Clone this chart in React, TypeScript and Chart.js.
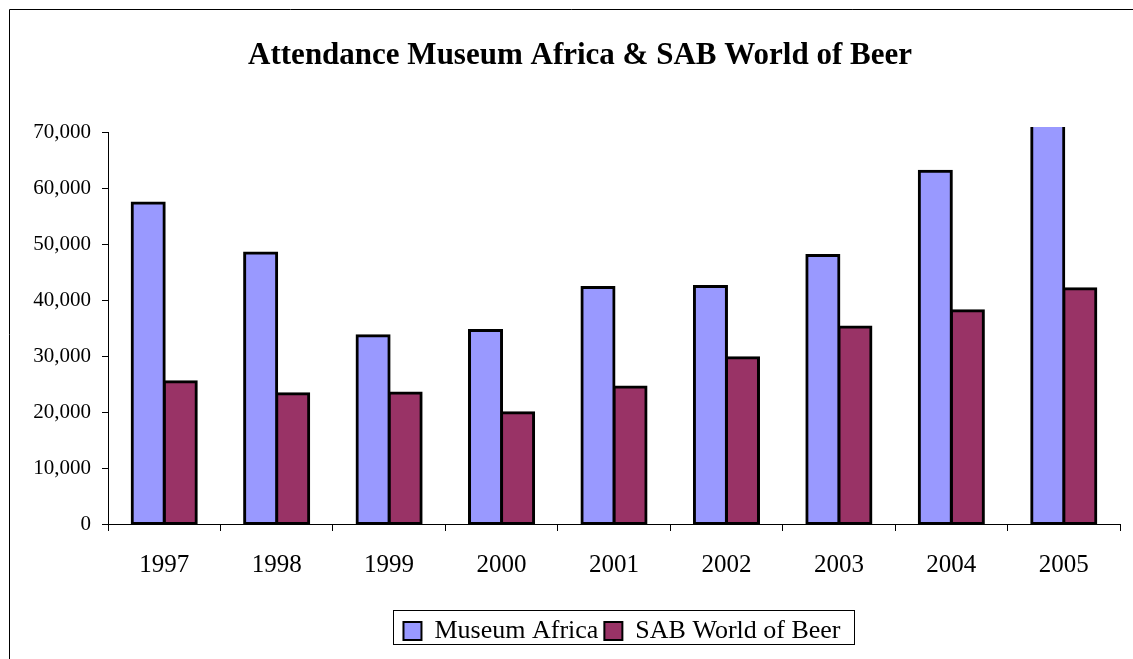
import React, { useEffect, useRef } from 'react';
import { Chart, registerables } from 'chart.js';

Chart.register(...registerables);

// ---- data ----
const YEARS = ['1997', '1998', '1999', '2000', '2001', '2002', '2003', '2004', '2005'];
const MUSEUM_AFRICA = [57300, 48400, 33600, 34550, 42250, 42400, 47950, 63000, 74000];
const SAB_WORLD_OF_BEER = [25400, 23250, 23400, 19850, 24450, 29700, 35200, 38100, 42000];
const SERIES_NAMES = ['Museum Africa', 'SAB World of Beer'];
const TITLE = 'Attendance Museum Africa & SAB World of Beer';
const Y_MIN = 0;
const Y_MAX = 70000;
const Y_STEP = 10000;

// ---- style ----
const COLORS = ['#9999FF', '#993366'];
const FONT = '"Liberation Serif", "Times New Roman", Times, serif';
const W = 1133;
const H = 659;
const TITLE_CENTER_X = 580;
const LEGEND_CENTER_X = 622;

const fmt = new Intl.NumberFormat('en-US');

const layoutPlugin = {
  id: 'layoutShift',
  afterUpdate(chart: any) {
    const t = chart.titleBlock;
    if (t) {
      const dx = TITLE_CENTER_X - (t.left + t.right) / 2;
      t.left += dx;
      t.right += dx;
    }
    const lg = chart.legend;
    if (lg && lg.legendHitBoxes && lg.legendHitBoxes.length) {
      const boxes = lg.legendHitBoxes;
      const minX = Math.min(...boxes.map((b: any) => b.left));
      const maxX = Math.max(...boxes.map((b: any) => b.left + b.width));
      const dx = LEGEND_CENTER_X - (minX + maxX) / 2;
      lg.left += dx;
      lg.right += dx;
      boxes.forEach((b: any) => { b.left += dx; });
    }
  },
  afterDraw(chart: any) {
    const ctx = chart.ctx;
    ctx.save();
    ctx.strokeStyle = '#000';
    ctx.lineWidth = 1;
    // outer chart frame (left and top edges visible)
    ctx.beginPath();
    ctx.moveTo(9.5, H);
    ctx.lineTo(9.5, 9.5);
    ctx.lineTo(W, 9.5);
    ctx.stroke();
    // legend frame
    const lg = chart.legend;
    if (lg && lg.legendHitBoxes && lg.legendHitBoxes.length) {
      const boxes = lg.legendHitBoxes;
      const minX = Math.min(...boxes.map((b: any) => b.left));
      const maxX = Math.max(...boxes.map((b: any) => b.left + b.width));
      const cy = boxes[0].top + boxes[0].height / 2;
      const x0 = Math.round(minX - 10) + 0.5;
      const x1 = Math.round(maxX + 13) + 0.5;
      const y0 = Math.round(cy - 21) + 0.5;
      const y1 = Math.round(cy + 13) + 0.5;
      ctx.strokeRect(x0, y0, x1 - x0, y1 - y0);
    }
    ctx.restore();
  },
};

export default function App() {
  const canvasRef = useRef<HTMLCanvasElement | null>(null);

  useEffect(() => {
    const canvas = canvasRef.current;
    if (!canvas) return;
    const chart = new Chart(canvas, {
      type: 'bar',
      data: {
        labels: YEARS,
        datasets: [
          {
            label: SERIES_NAMES[0],
            data: MUSEUM_AFRICA,
            backgroundColor: COLORS[0],
            borderColor: '#000',
            borderWidth: 3,
            borderSkipped: false,
            inflateAmount: 1.5,
            categoryPercentage: 0.57,
            barPercentage: 1.0,
            clip: { left: 5, top: 5, right: 5, bottom: 5 },
          },
          {
            label: SERIES_NAMES[1],
            data: SAB_WORLD_OF_BEER,
            backgroundColor: COLORS[1],
            borderColor: '#000',
            borderWidth: 3,
            borderSkipped: false,
            inflateAmount: 1.5,
            categoryPercentage: 0.57,
            barPercentage: 1.0,
            clip: { left: 5, top: 5, right: 5, bottom: 5 },
          },
        ] as any,
      },
      options: {
        responsive: false,
        animation: false,
        devicePixelRatio: 1,
        layout: { padding: { left: 0, right: 13, top: 0, bottom: 5 } },
        plugins: {
          title: {
            display: true,
            text: TITLE,
            color: '#000',
            font: { family: FONT, size: 31, weight: 'bold' },
            padding: { top: 37.5, bottom: 57.3 },
          },
          legend: {
            display: true,
            position: 'bottom',
            labels: {
              color: '#000',
              font: { family: FONT, size: 26 },
              boxWidth: 18,
              boxHeight: 18,
              padding: 6,
              generateLabels(chart: any) {
                const items = Chart.defaults.plugins.legend.labels.generateLabels(chart);
                return items.map((it: any) => ({ ...it, lineWidth: 2, strokeStyle: '#000' }));
              },
            },
          },
          tooltip: { enabled: false },
        },
        scales: {
          x: {
            offset: true,
            grid: {
              display: true,
              offset: true,
              drawOnChartArea: false,
              drawTicks: true,
              tickLength: 7,
              color: '#000',
              lineWidth: 1,
            },
            border: { display: true, color: '#000', width: 1 },
            ticks: {
              color: '#000',
              font: { family: FONT, size: 25 },
              padding: 19,
              maxRotation: 0,
              autoSkip: false,
            },
            afterFit(scale: any) { scale.height = 88; },
          },
          y: {
            min: Y_MIN,
            max: Y_MAX,
            grid: {
              display: true,
              drawOnChartArea: false,
              drawTicks: true,
              tickLength: 6,
              color: '#000',
              lineWidth: 1,
            },
            border: { display: true, color: '#000', width: 1 },
            ticks: {
              stepSize: Y_STEP,
              color: '#000',
              font: { family: FONT, size: 21 },
              padding: 11,
              callback: (v: any) => fmt.format(Number(v)),
            },
            afterFit(scale: any) { scale.width = 108; },
          },
        },
      } as any,
      plugins: [layoutPlugin],
    });
    return () => chart.destroy();
  }, []);

  return (
    <div style={{ position: 'absolute', left: 0, top: 0, width: W, height: H, background: '#fff' }}>
      <canvas ref={canvasRef} width={W} height={H} style={{ display: 'block', width: W, height: H }} />
    </div>
  );
}
